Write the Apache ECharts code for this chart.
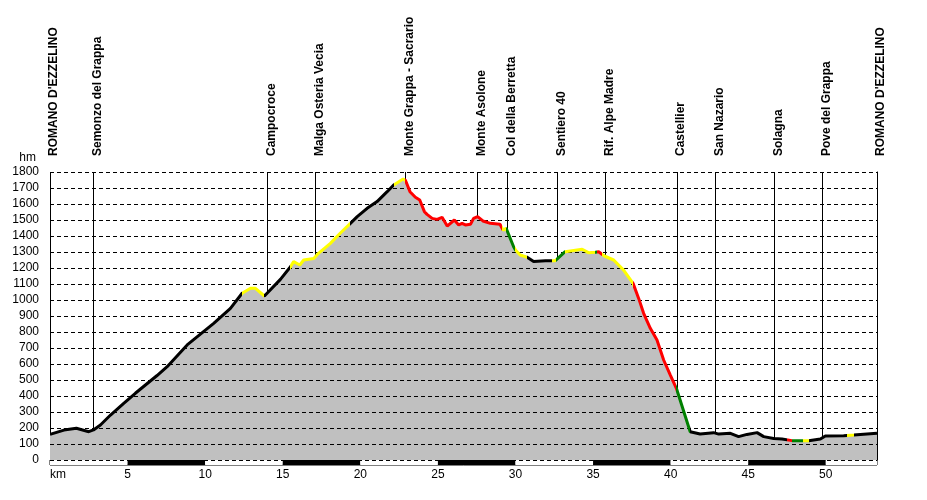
<!DOCTYPE html>
<html>
<head>
<meta charset="utf-8">
<script src="https://cdn.jsdelivr.net/npm/echarts@6/dist/echarts.min.js"></script>
<style>
  html, body { margin: 0; padding: 0; background: #fff; }
  #chart1 { width: 927px; height: 500px; }
</style>
</head>
<body>
<div id="chart1"></div>
<script>
// profile: distance (km) and elevation (m)
var kmValues = [0, 0.9, 1.7, 2.5, 2.8, 3.25, 3.9, 4.75, 5.5, 6.9, 7.55, 8.84, 10.55, 11.63, 12.38, 12.92, 13.24, 13.82,
    14.85, 15.5, 15.7, 16.1, 16.35, 17.0, 17.3, 18.07, 18.7, 19.36, 19.8, 20.44, 21.08, 21.73, 22.15, 22.76, 22.9,
    23.2, 23.55, 23.83, 24.13, 24.3, 24.63, 24.95, 25.27, 25.6, 26.06, 26.34, 26.56, 26.77, 27.1, 27.3, 27.56, 27.9,
    28.38, 29.0, 29.2, 29.4, 29.88, 30.0, 30.3, 30.75, 31.17, 31.93, 32.57, 33.2, 34.3, 34.7, 35.15, 35.36, 35.73,
    36.33, 36.97, 37.58, 37.94, 38.26, 38.69, 39.12, 39.55, 39.98, 40.37, 41.26, 41.9, 42.77, 43.1, 43.85, 44.38,
    44.92, 45.57, 46.0, 46.64, 47.18, 47.82, 48.57, 48.9, 49.65, 49.97, 51.15, 51.8, 53.3];
var elevValues = [160, 187, 198, 177, 188, 219, 281, 354, 417, 528, 583, 719, 854, 948, 1042, 1073, 1073, 1025,
    1129, 1208, 1240, 1219, 1250, 1260, 1292, 1354, 1417, 1479, 1521, 1573, 1615, 1677, 1719, 1756, 1750,
    1677, 1642, 1625, 1552, 1535, 1510, 1504, 1517, 1462, 1500, 1469, 1479, 1469, 1473, 1510, 1521, 1494,
    1479, 1473, 1437, 1448, 1333, 1312, 1281, 1267, 1240, 1246, 1246, 1302, 1317, 1296, 1298, 1302, 1275,
    1250, 1187, 1104, 1010, 917, 823, 750, 625, 531, 448, 177, 162, 171, 162, 167, 146,
    160, 171, 146, 135, 131, 121, 121, 121, 131, 150, 152, 156, 167];

// waypoints
var waypointNames = ["ROMANO D'EZZELINO", 'Semonzo del Grappa', 'Campocroce', 'Malga Osteria Vecia',
    'Monte Grappa - Sacrario', 'Monte Asolone', 'Col della Berretta', 'Sentiero 40', 'Rif. Alpe Madre',
    'Castellier', 'San Nazario', 'Solagna', 'Pove del Grappa', "ROMANO D'EZZELINO"];
var waypointKm = [0, 2.8, 14.0, 17.1, 22.9, 27.55, 29.5, 32.7, 35.8, 40.4, 42.9, 46.7, 49.8, 53.3];

// gradient class of each stretch of the track
var segStart = [0, 12.38, 13.82, 15.5, 19.36, 22.15, 22.85, 29.15, 29.4, 29.95, 30.75, 32.36, 32.6, 33.2, 35.1,
    35.25, 35.6, 37.58, 40.37, 41.26, 47.5, 47.8, 48.55, 48.9, 51.37, 51.8];
var segEnd = [12.38, 13.82, 15.5, 19.36, 22.15, 22.85, 29.15, 29.4, 29.95, 30.75, 32.36, 32.6, 33.2, 35.1, 35.25,
    35.6, 37.58, 40.37, 41.26, 47.5, 47.8, 48.55, 48.9, 51.37, 51.8, 53.3];
var segClass = ['k', 'y', 'k', 'y', 'k', 'y', 'r', 'y', 'g', 'y', 'k', 'y', 'g', 'y', 'g',
    'r', 'y', 'r', 'g', 'k', 'r', 'g', 'y', 'k', 'y', 'k'];

var kmTicks = [0, 5, 10, 15, 20, 25, 30, 35, 40, 45, 50];

var classColor = { k: '#000000', y: '#ffff00', r: '#ff0000', g: '#008000' };
var FONT = 'Liberation Sans, Arial, sans-serif';
var kmMax = 53.3;

var profile = kmValues.map(function (k, i) { return [k, elevValues[i]]; });

function elevAt(k) {
    for (var i = 1; i < kmValues.length; i++) {
        if (k <= kmValues[i]) {
            var t = (k - kmValues[i - 1]) / (kmValues[i] - kmValues[i - 1]);
            return elevValues[i - 1] + t * (elevValues[i] - elevValues[i - 1]);
        }
    }
    return elevValues[elevValues.length - 1];
}

var pieces = segStart.map(function (s, i) {
    var p = { gte: s, color: classColor[segClass[i]] };
    if (i === segStart.length - 1) p.lte = segEnd[i] + 1; else p.lt = segEnd[i];
    return p;
});

var waypointLines = waypointKm.map(function (k) {
    return [{ coord: [k, elevAt(k)] }, { coord: [k, 1800] }];
});

var myChart = echarts.init(document.getElementById('chart1'));

myChart.setOption({
    animation: false,
    backgroundColor: '#fff',
    textStyle: { fontFamily: FONT },
    grid: [
        { left: 50, right: 50, top: 172, bottom: 40 },
        { left: 50, right: 50, top: 460, height: 5, show: true, borderColor: '#000', borderWidth: 1, backgroundColor: 'transparent' },
        // names sit a few px right of their line
        { left: 54, right: 46, top: 172, bottom: 40 }
    ],
    xAxis: [
        {
            type: 'value', gridIndex: 0, min: 0, max: kmMax,
            axisLine: { show: false }, axisTick: { show: false }, axisLabel: { show: false }, splitLine: { show: false }
        },
        {
            type: 'value', gridIndex: 2, position: 'top', min: 0, max: kmMax,
            axisLine: { show: false }, axisTick: { show: false }, splitLine: { show: false },
            axisLabel: {
                customValues: waypointKm,
                rotate: 90,
                margin: 16,
                fontSize: 12,
                fontWeight: 'bold',
                color: '#000',
                fontFamily: FONT,
                formatter: function (v) {
                    var best = 0;
                    for (var i = 0; i < waypointKm.length; i++) {
                        if (Math.abs(waypointKm[i] - v) < Math.abs(waypointKm[best] - v)) best = i;
                    }
                    return waypointNames[best];
                }
            }
        },
        {
            type: 'value', gridIndex: 1, min: 0, max: kmMax, interval: 5,
            axisLine: { show: false }, axisTick: { show: false }, splitLine: { show: false },
            splitArea: { show: true, areaStyle: { color: ['#ffffff', '#000000'] } },
            axisLabel: {
                customValues: kmTicks,
                margin: 4, fontSize: 12, color: '#000', fontFamily: FONT,
                alignMinLabel: 'left',
                formatter: function (v) { return v === 0 ? 'km' : String(v); }
            }
        }
    ],
    yAxis: [
        {
            type: 'value', gridIndex: 0, min: 0, max: 1800, interval: 100, z: 3,
            name: 'hm', nameLocation: 'end', nameGap: 8,
            nameTextStyle: { fontSize: 12, color: '#000', align: 'right', padding: [0, 14, 0, 0], fontFamily: FONT },
            axisLine: { show: false }, axisTick: { show: false },
            axisLabel: {
                fontSize: 12, color: '#000', margin: 11, fontFamily: FONT,
                formatter: function (v) { return String(v); }
            },
            splitLine: { show: true, lineStyle: { color: '#000', width: 1, type: [4, 3] } }
        },
        {
            type: 'value', gridIndex: 0, position: 'right', min: 0, max: 1800,
            axisLine: { show: true, lineStyle: { color: '#000', width: 1 } },
            axisTick: { show: false }, axisLabel: { show: false }, splitLine: { show: false }
        },
        {
            type: 'value', gridIndex: 1, min: 0, max: 1, show: false
        },
        {
            type: 'value', gridIndex: 2, min: 0, max: 1, show: false
        }
    ],
    visualMap: {
        type: 'piecewise', show: false, dimension: 0, seriesIndex: 1,
        pieces: pieces
    },
    series: [
        {
            type: 'line', xAxisIndex: 0, yAxisIndex: 0, data: profile, symbol: 'none', silent: true, z: 1,
            lineStyle: { width: 0 },
            areaStyle: { color: '#c0c0c0', opacity: 1 }
        },
        {
            type: 'line', xAxisIndex: 0, yAxisIndex: 0, data: profile, symbol: 'none', silent: true, z: 5,
            lineStyle: { width: 3 },
            markLine: {
                silent: true, symbol: 'none', animation: false,
                label: { show: false },
                lineStyle: { color: '#000', width: 1, type: 'solid' },
                data: waypointLines
            }
        },
        {
            type: 'line', xAxisIndex: 2, yAxisIndex: 2, data: [], symbol: 'none'
        },
        {
            type: 'line', xAxisIndex: 1, yAxisIndex: 3, data: [], symbol: 'none'
        }
    ]
});
</script>
</body>
</html>
